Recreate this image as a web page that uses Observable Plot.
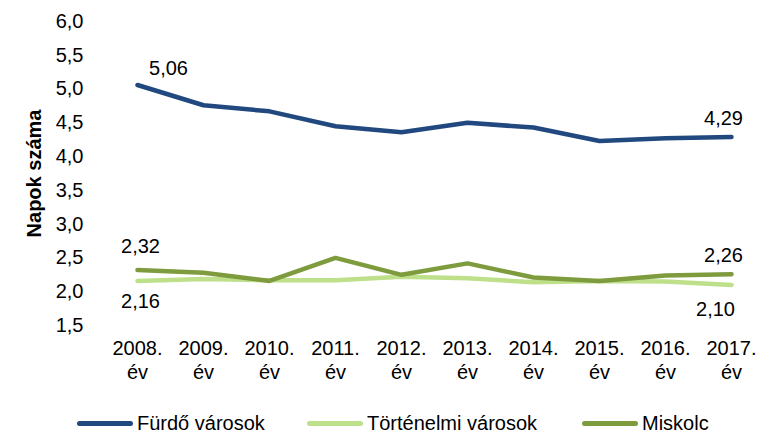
<!DOCTYPE html>
<html>
<head>
<meta charset="utf-8">
<script src="https://cdn.jsdelivr.net/npm/d3@7"></script>
<script src="https://cdn.jsdelivr.net/npm/@observablehq/plot@0.6"></script>
<style>
  body { margin: 0; background: #fff; font-family: "Liberation Sans", Arial, sans-serif; }
  #legend { position: relative; height: 37px; width: 773px; font-size: 20px; color: #000; }
  .item { position: absolute; top: 16px; display: flex; align-items: center; height: 24px; }
  .sw { width: 56px; height: 5px; border-radius: 3px; margin-right: 4px; }
</style>
</head>
<body>
<div id="chart"></div>
<div id="legend"></div>
<script>
const years = ["2008", "2009", "2010", "2011", "2012", "2013", "2014", "2015", "2016", "2017"];
const seriesNames = ["Fürdő városok", "Történelmi városok", "Miskolc"];
const furdo = [5.06, 4.76, 4.67, 4.45, 4.36, 4.50, 4.43, 4.23, 4.27, 4.29];
const tortenelmi = [2.16, 2.19, 2.17, 2.17, 2.22, 2.20, 2.14, 2.16, 2.15, 2.10];
const miskolc = [2.32, 2.28, 2.16, 2.50, 2.25, 2.42, 2.21, 2.16, 2.24, 2.26];
const yTicks = [1.5, 2.0, 2.5, 3.0, 3.5, 4.0, 4.5, 5.0, 5.5, 6.0];
const colors = ["#21497f", "#bfe08b", "#7e9b3e"];

const values = [furdo, tortenelmi, miskolc];
const data = [];
seriesNames.forEach((s, i) => years.forEach((y, j) => data.push({series: s, year: y, value: values[i][j], idx: j})));

const fmt = v => d3.format(".2f")(v).replace(".", ",");
const first = s => data.filter(d => d.series === s && d.idx === 0);
const last = s => data.filter(d => d.series === s && d.idx === years.length - 1);
const lbl = {x: "year", y: "value", text: d => fmt(d.value), fontSize: 20, fill: "#000"};

const plot = Plot.plot({
  width: 773,
  height: 395,
  marginTop: 21,
  marginBottom: 70,
  marginLeft: 135,
  marginRight: 40,
  style: {fontFamily: "'Liberation Sans', Arial, sans-serif", fontSize: "20px", color: "#000", background: "#fff", overflow: "visible"},
  x: {type: "point", domain: years, padding: 0},
  y: {domain: [1.5, 6.0]},
  color: {domain: seriesNames, range: colors},
  marks: [
    Plot.axisY({ticks: yTicks, tickSize: 0, tickPadding: 52, label: null, tickFormat: v => d3.format(".1f")(v).replace(".", ","), fontSize: 20}),
    Plot.axisX({tickSize: 0, tickPadding: 13, label: null, tickFormat: y => y + ".\név", fontSize: 20, lineHeight: 1.17}),
    Plot.text(["Napok száma"], {frameAnchor: "left", textAnchor: "middle", rotate: -90, dx: -101, fontWeight: "bold", fontSize: 20, fill: "#000"}),
    Plot.line(data.filter(d => d.series === "Történelmi városok"), {x: "year", y: "value", stroke: colors[1], strokeWidth: 4.5, strokeLinejoin: "round", strokeLinecap: "round"}),
    Plot.line(data.filter(d => d.series === "Miskolc"), {x: "year", y: "value", stroke: colors[2], strokeWidth: 4.5, strokeLinejoin: "round", strokeLinecap: "round"}),
    Plot.line(data.filter(d => d.series === "Fürdő városok"), {x: "year", y: "value", stroke: colors[0], strokeWidth: 4.5, strokeLinejoin: "round", strokeLinecap: "round"}),
    Plot.text(first("Fürdő városok"), {...lbl, dx: 31, dy: -16}),
    Plot.text(last("Fürdő városok"), {...lbl, dx: -8, dy: -18}),
    Plot.text(first("Miskolc"), {...lbl, dx: 3, dy: -24}),
    Plot.text(last("Miskolc"), {...lbl, dx: -8, dy: -19}),
    Plot.text(first("Történelmi városok"), {...lbl, dx: 3, dy: 21}),
    Plot.text(last("Történelmi városok"), {...lbl, dx: -16, dy: 25})
  ]
});
document.getElementById("chart").appendChild(plot);

const legendLefts = [77, 307, 582];
const legend = document.getElementById("legend");
seriesNames.forEach((s, i) => {
  const item = document.createElement("div");
  item.className = "item";
  item.style.left = legendLefts[i] + "px";
  const sw = document.createElement("div");
  sw.className = "sw";
  sw.style.background = colors[i];
  const t = document.createElement("span");
  t.textContent = s;
  item.appendChild(sw);
  item.appendChild(t);
  legend.appendChild(item);
});
</script>
</body>
</html>
